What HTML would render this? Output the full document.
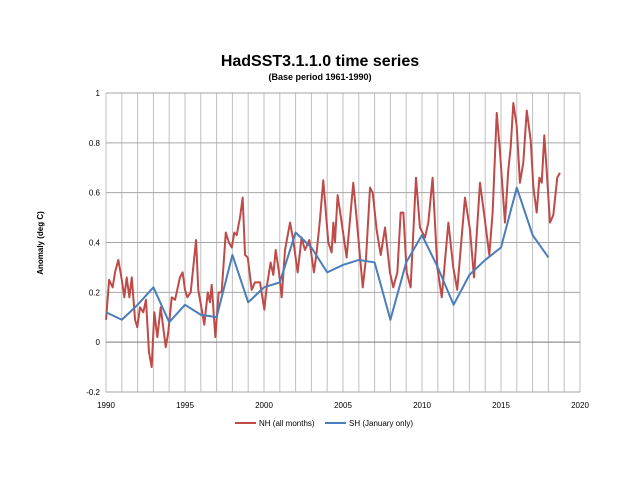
<!DOCTYPE html>
<html><head><meta charset="utf-8"><style>
body{margin:0;background:#fff;font-family:"Liberation Sans",sans-serif}
svg text{font-family:"Liberation Sans",sans-serif}
</style></head><body>
<svg id="chart" width="640" height="480" xmlns="http://www.w3.org/2000/svg">
<text x="320" y="66" text-anchor="middle" font-size="16" font-weight="bold">HadSST3.1.1.0 time series</text>
<text x="320" y="80" text-anchor="middle" font-size="9" font-weight="bold">(Base period 1961-1990)</text>
<text transform="translate(43,243) rotate(-90)" text-anchor="middle" font-size="8" font-weight="bold">Anomaly (deg C)</text>
<g id="grid"></g><g id="axes"></g><g id="series"></g>
<g>
<line x1="235" y1="423" x2="256" y2="423" stroke="#be4b48" stroke-width="2"/>
<text x="259" y="426" font-size="8">NH (all months)</text>
<line x1="325" y1="423" x2="346" y2="423" stroke="#4a7ebb" stroke-width="2"/>
<text x="349" y="426" font-size="8">SH (January only)</text>
</g>
</svg>
<script>
const shYears=[1990,1991,1992,1993,1994,1995,1996,1997,1998,1999,2000,2001,2002,2003,2004,2005,2006,2007,2008,2009,2010,2011,2012,2013,2014,2015,2016,2017,2018];
const shValues=[0.12,0.09,0.15,0.22,0.08,0.15,0.11,0.10,0.35,0.16,0.22,0.24,0.44,0.38,0.28,0.31,0.33,0.32,0.09,0.32,0.43,0.30,0.15,0.27,0.33,0.38,0.62,0.43,0.34];
const nhYears=[1990.0,1990.2,1990.42,1990.57,1990.78,1991.0,1991.16,1991.31,1991.48,1991.63,1991.84,1991.98,1992.15,1992.36,1992.53,1992.72,1992.89,1993.06,1993.25,1993.46,1993.78,1993.94,1994.16,1994.37,1994.68,1994.85,1995.0,1995.15,1995.36,1995.57,1995.7,1995.84,1996.06,1996.22,1996.44,1996.58,1996.69,1996.92,1997.13,1997.32,1997.58,1997.78,1997.96,1998.12,1998.27,1998.48,1998.65,1998.8,1998.97,1999.22,1999.43,1999.75,2000.02,2000.17,2000.42,2000.59,2000.74,2000.95,2001.12,2001.33,2001.65,2001.85,2002.13,2002.38,2002.59,2002.87,2003.16,2003.33,2003.54,2003.75,2004.07,2004.28,2004.39,2004.49,2004.66,2004.87,2005.23,2005.65,2005.87,2006.25,2006.46,2006.71,2006.88,2007.13,2007.39,2007.66,2007.97,2008.18,2008.44,2008.65,2008.82,2009.03,2009.28,2009.62,2009.87,2010.19,2010.4,2010.67,2010.97,2011.25,2011.67,2011.98,2012.23,2012.72,2013.04,2013.29,2013.45,2013.67,2013.92,2014.26,2014.47,2014.73,2014.94,2015.25,2015.46,2015.61,2015.78,2015.99,2016.2,2016.41,2016.63,2016.88,2017.05,2017.26,2017.43,2017.58,2017.74,2017.89,2018.1,2018.31,2018.56,2018.73];
const nhValues=[0.09,0.25,0.22,0.28,0.33,0.25,0.18,0.26,0.18,0.26,0.09,0.06,0.14,0.12,0.17,-0.04,-0.10,0.12,0.02,0.14,-0.02,0.04,0.18,0.17,0.26,0.28,0.21,0.18,0.20,0.33,0.41,0.21,0.13,0.07,0.20,0.16,0.23,0.02,0.20,0.20,0.44,0.40,0.38,0.44,0.43,0.50,0.58,0.35,0.34,0.21,0.24,0.24,0.13,0.22,0.32,0.27,0.37,0.28,0.18,0.37,0.48,0.41,0.28,0.42,0.37,0.41,0.28,0.36,0.49,0.65,0.40,0.36,0.48,0.40,0.59,0.50,0.34,0.64,0.49,0.22,0.34,0.62,0.60,0.45,0.35,0.46,0.28,0.22,0.28,0.52,0.52,0.28,0.22,0.66,0.46,0.42,0.48,0.66,0.30,0.18,0.48,0.30,0.21,0.58,0.45,0.26,0.42,0.64,0.52,0.35,0.52,0.92,0.76,0.48,0.69,0.78,0.96,0.87,0.64,0.72,0.93,0.81,0.62,0.52,0.66,0.64,0.83,0.69,0.48,0.51,0.66,0.68];
const xTicks=[1990,1995,2000,2005,2010,2015,2020];
const yTicks=[-0.2,0,0.2,0.4,0.6,0.8,1];
const X0=106,X1=580,Y0=392,Y1=93;
const xs=v=>X0+(v-1990)/30*(X1-X0);
const ys=v=>Y0-(v+0.2)/1.2*(Y0-Y1);
const NS="http://www.w3.org/2000/svg";
function mk(tag,attrs,parent){const e=document.createElementNS(NS,tag);for(const k in attrs)e.setAttribute(k,attrs[k]);parent.appendChild(e);return e;}
const grid=document.getElementById('grid'),axes=document.getElementById('axes'),series=document.getElementById('series');
for(let y=1990;y<=2020;y++){const l=mk('line',{x1:xs(y),x2:xs(y),y1:Y1,y2:Y0,stroke:'#bfbfbf','stroke-width':1},grid);

}
yTicks.forEach(v=>{const l=mk('line',{x1:X0,x2:X1,y1:ys(v),y2:ys(v),stroke:'#a6a6a6','stroke-width':1},grid);


const t=mk('text',{x:X0-6,y:ys(v)+3,'text-anchor':'end','font-size':8},axes);t.textContent=(v===0?'0':String(v));

});
xTicks.forEach(v=>{const t=mk('text',{x:xs(v),y:Y0+16,'text-anchor':'middle','font-size':8},axes);t.textContent=v;

});
const ax=mk('line',{x1:X0,x2:X1,y1:ys(0),y2:ys(0),stroke:'#888','stroke-width':1},axes);


const nh=mk('polyline',{points:nhYears.map((y,i)=>xs(y)+','+ys(nhValues[i])).join(' '),fill:'none',stroke:'#be4b48','stroke-width':2,'stroke-linejoin':'round'},series);


const sh=mk('polyline',{points:shYears.map((y,i)=>xs(y)+','+ys(shValues[i])).join(' '),fill:'none',stroke:'#4a7ebb','stroke-width':2,'stroke-linejoin':'round'},series);


</script>
</body></html>
